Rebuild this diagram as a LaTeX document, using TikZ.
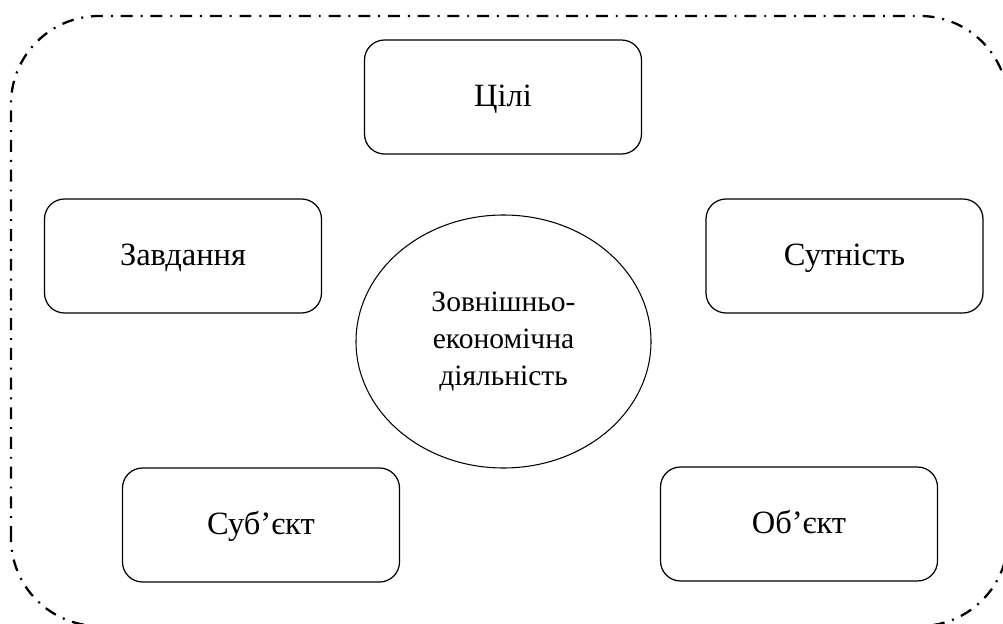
\documentclass[tikz,border=0pt]{standalone}
\usepackage{fontspec}
\setmainfont{Liberation Serif}
\usepackage{tikz}
\usetikzlibrary{shapes.geometric}

\begin{document}
\begin{tikzpicture}[
        box/.style = {draw, rounded corners=0.4cm, minimum width=5.54cm, minimum height=2.28cm, line width=0.7pt, text height=1.2em, text depth=0.15em, font=\fontsize{18.5}{22}\selectfont},
        oval/.style = {ellipse, draw, minimum width=5.9cm, minimum height=5.06cm, inner sep=0pt, line width=0.6pt, align=center, font=\fontsize{16.8}{21}\selectfont},
        dashdot/.style = {line width=1.3pt, dash pattern=on 6.8pt off 4.5pt on 1.1pt off 4.5pt}
    ]
        \useasboundingbox (0,0) rectangle (20.06,12.46);
        \clip (0,0) rectangle (20.06,12.46);
        \draw[dashdot, rounded corners=1.76cm] (0.22,-0.06) rectangle (20.16,12.14);
        \node[box] (goals) at (10.06,10.52) {Цілі};
        \node[box] (tasks) at (3.66,7.34) {Завдання};
        \node[box] (essence) at (16.89,7.34) {Сутність};
        \node[box] (subject) at (5.22,1.96) {Суб’єкт};
        \node[box] (object) at (15.98,1.98) {Об’єкт};
        \node[oval] (fea) at (10.07,5.63) {Зовнішньо-\\економічна\\діяльність};
    \end{tikzpicture}
\end{document}
